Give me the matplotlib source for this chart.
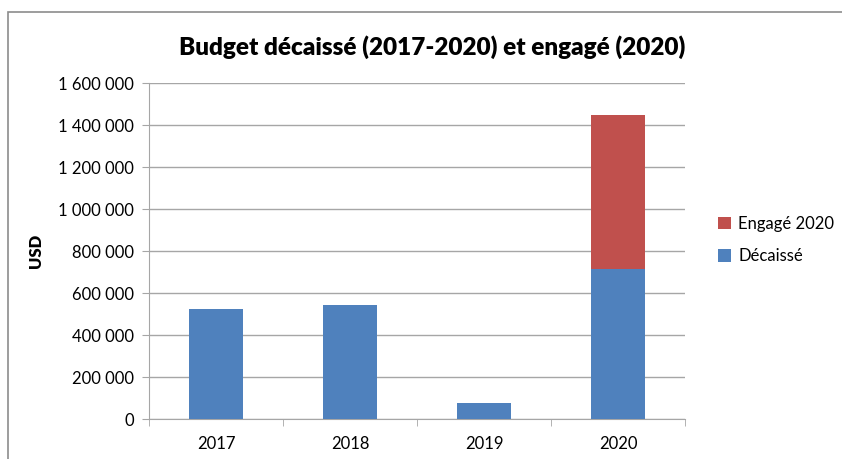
import numpy as np
import matplotlib.pyplot as plt
from matplotlib.ticker import FuncFormatter, FixedLocator
from matplotlib.patches import Rectangle

# data
years = ['2017', '2018', '2019', '2020']
decaisse = [522000, 541000, 76000, 713000]
engage = [0, 0, 0, 734000]
yticks = np.arange(0, 1600001, 200000)

blue = '#4F81BD'
red = '#C0504D'
grid_col = '#A6A6A6'

plt.rcParams['font.family'] = ['Lato', 'DejaVu Sans']

fig = plt.figure(figsize=(8.42, 4.59), dpi=100)
ax = fig.add_axes([149/842, 1 - 419/459, (685 - 149)/842, (419 - 83.3)/459])

# outer chart border
fig.patches.append(Rectangle((8/842, -0.05), 1.2, 1 - 12/459 + 0.05,
                             transform=fig.transFigure, fill=False,
                             edgecolor='#8C8C8C', lw=1.2))

x = np.arange(len(years))
ax.bar(x, decaisse, width=0.4, color=blue, label='Décaissé', zorder=3)
ax.bar(x, engage, width=0.4, bottom=decaisse, color=red, label='Engagé 2020', zorder=3)

ax.set_xlim(-0.5, len(years) - 0.5)
ax.set_ylim(0, 1600000)
ax.set_yticks(yticks)
ax.yaxis.set_major_formatter(FuncFormatter(lambda v, p: f'{int(v):,}'.replace(',', ' ')))
ax.grid(axis='y', color=grid_col, lw=1, zorder=0)

ax.set_xticks(x)
ax.set_xticklabels(years)
ax.xaxis.set_minor_locator(FixedLocator(np.arange(-0.5, len(years), 1.0)))
ax.tick_params(axis='x', which='major', length=0, pad=12, labelsize=12)
ax.tick_params(axis='x', which='minor', length=5, color=grid_col)
ax.tick_params(axis='y', length=5, color=grid_col, labelsize=12, pad=6)

for s in ['top', 'right']:
    ax.spines[s].set_visible(False)
for s in ['left', 'bottom']:
    ax.spines[s].set_color(grid_col)

ax.set_ylabel('USD', fontsize=12, fontweight='heavy', labelpad=10)
fig.text(432/842, 1 - 47/459, 'Budget décaissé (2017-2020) et engagé (2020)',
         ha='center', va='center', fontsize=17.5, fontweight='heavy')

h, l = ax.get_legend_handles_labels()
fig.legend(h[::-1], l[::-1], loc='center left', bbox_to_anchor=(703/842, 1 - 240/459),
           frameon=False, fontsize=12, handlelength=0.8, handleheight=0.8,
           handletextpad=0.4, labelspacing=1.0)

fig.savefig('out.png', dpi=100)
